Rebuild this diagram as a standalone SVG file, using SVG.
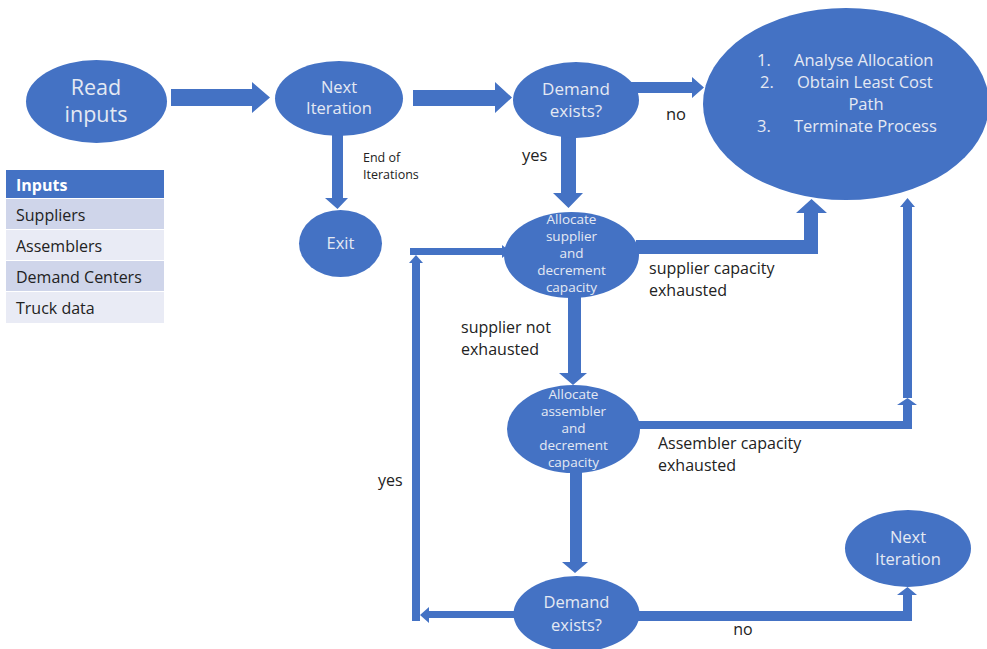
<svg xmlns="http://www.w3.org/2000/svg" width="987" height="649" viewBox="0 0 987 649">
<style>
.n{fill:#4472C4}
.c{fill:#4472C4}
.t{font-family:"Open Sans","Liberation Sans",sans-serif;fill:#E4E9F3;text-anchor:middle}
.s{text-anchor:start}
.l{font-family:"Open Sans","Liberation Sans",sans-serif;fill:#222;font-size:16px}
.tb{font-family:"Open Sans","Liberation Sans",sans-serif;font-size:16px;fill:#222}
</style>
<rect width="987" height="649" fill="#fff"/>
<g id="connectors">
<polygon class="c" points="171,89 252,89 252,82 270,97.5 252,113 252,106 171,106"/>
<polygon class="c" points="413,90 495,90 495,82 512,97.5 495,113 495,106 413,106"/>
<polygon class="c" points="630,82 692,82 692,77 704,87.5 692,98 692,93 630,93"/>
<polygon class="c" points="561,136 576,136 576,193 583,193 568.5,208 553,193 561,193"/>
<polygon class="c" points="332,134 343,134 343,198 348,198 337.5,209 325,198 332,198"/>
<polygon class="c" points="636,240 804,240 804,213 796,213 811.5,199 827,213 818,213 818,254 636,254"/>
<polygon class="c" points="638,421 903,421 903,405 897,405 907.5,398 917,405 912,405 912,429 638,429"/>
<polygon class="c" points="903,398 903,207 900,207 907.5,198 915,207 912,207 912,398"/>
<polygon class="c" points="568,296 581,296 581,373 587,373 573,385 559,373 568,373"/>
<polygon class="c" points="570,472 582,472 582,562 588,562 575,573 562,562 570,562"/>
<polygon class="c" points="514,611 429,611 429,607 420,615 429,623 429,618 514,618"/>
<polygon class="c" points="412,621 412,263 409,263 416,255 423,263 420,263 420,621"/>
<polygon class="c" points="410,248 502,248 502,245 510,251.5 502,258 502,255 410,255"/>
<polygon class="c" points="638,611 903,611 903,595 897,595 907.5,587 917,595 912,595 912,621 638,621"/>
</g>
<g id="read-inputs">
<ellipse class="n" cx="96.5" cy="101.5" rx="70.5" ry="41.5"/>
<text class="t" x="96" y="95" font-size="21.5">Read</text>
<text class="t" x="96" y="122" font-size="21.5">inputs</text>
</g>
<g id="next-iteration-1">
<ellipse class="n" cx="339" cy="98.5" rx="64" ry="37.5"/>
<text class="t" x="339" y="93" font-size="16.5">Next</text>
<text class="t" x="339" y="114" font-size="16.5">Iteration</text>
</g>
<g id="demand-exists-1">
<ellipse class="n" cx="576" cy="100" rx="63" ry="38"/>
<text class="t" x="576" y="95" font-size="17">Demand</text>
<text class="t" x="576" y="117" font-size="17">exists?</text>
</g>
<g id="terminate">
<ellipse class="n" cx="846" cy="104" rx="143" ry="96"/>
<text class="t s" x="757" y="66" font-size="16.5">1.</text>
<text class="t s" x="794" y="66" font-size="16.5">Analyse Allocation</text>
<text class="t s" x="760" y="88" font-size="16.5">2.</text>
<text class="t s" x="797" y="88" font-size="16.5">Obtain Least Cost</text>
<text class="t" x="866" y="110" font-size="16.5">Path</text>
<text class="t s" x="757" y="132" font-size="16.5">3.</text>
<text class="t s" x="794" y="132" font-size="16.5">Terminate Process</text>
</g>
<g id="exit">
<ellipse class="n" cx="340.5" cy="243.5" rx="41.5" ry="33.5"/>
<text class="t" x="340.5" y="249" font-size="16.5">Exit</text>
</g>
<g id="allocate-supplier">
<ellipse class="n" cx="571.5" cy="255" rx="67.5" ry="43"/>
<text class="t" x="571.5" y="224" font-size="13.5">Allocate</text>
<text class="t" x="571.5" y="241" font-size="13.5">supplier</text>
<text class="t" x="571.5" y="258" font-size="13.5">and</text>
<text class="t" x="571.5" y="275" font-size="13.5">decrement</text>
<text class="t" x="571.5" y="292" font-size="13.5">capacity</text>
</g>
<g id="allocate-assembler">
<ellipse class="n" cx="573.5" cy="429" rx="66.5" ry="44"/>
<text class="t" x="573.5" y="399" font-size="13.5">Allocate</text>
<text class="t" x="573.5" y="416" font-size="13.5">assembler</text>
<text class="t" x="573.5" y="433" font-size="13.5">and</text>
<text class="t" x="573.5" y="450" font-size="13.5">decrement</text>
<text class="t" x="573.5" y="467" font-size="13.5">capacity</text>
</g>
<g id="demand-exists-2">
<ellipse class="n" cx="576.5" cy="614" rx="63" ry="38"/>
<text class="t" x="576.5" y="608" font-size="16.5">Demand</text>
<text class="t" x="576.5" y="631" font-size="16.5">exists?</text>
</g>
<g id="next-iteration-2">
<ellipse class="n" cx="908" cy="548.5" rx="63" ry="38.5"/>
<text class="t" x="908" y="543" font-size="16.5">Next</text>
<text class="t" x="908" y="565" font-size="16.5">Iteration</text>
</g>
<g id="labels">
<text class="l" x="363" y="162" style="font-size:12.5px">End of</text>
<text class="l" x="363" y="179" style="font-size:12.5px">Iterations</text>
<text class="l" x="522" y="161" style="font-size:16.5px">yes</text>
<text class="l" x="676" y="120" style="text-anchor:middle;font-size:16.5px">no</text>
<text class="l" x="649" y="274">supplier capacity</text>
<text class="l" x="649" y="296">exhausted</text>
<text class="l" x="461" y="333">supplier not</text>
<text class="l" x="461" y="355">exhausted</text>
<text class="l" x="658" y="449">Assembler capacity</text>
<text class="l" x="658" y="471">exhausted</text>
<text class="l" x="378" y="486">yes</text>
<text class="l" x="743" y="635" style="text-anchor:middle">no</text>
</g>
<g id="inputs-table">
<rect x="6" y="170" width="158" height="28" fill="#4472C4"/>
<rect x="6" y="199" width="158" height="30" fill="#CFD5EA"/>
<rect x="6" y="230" width="158" height="30" fill="#E9EBF5"/>
<rect x="6" y="261" width="158" height="30" fill="#CFD5EA"/>
<rect x="6" y="292" width="158" height="31" fill="#E9EBF5"/>
<text class="tb" x="16" y="191" style="fill:#fff;font-weight:bold">Inputs</text>
<text class="tb" x="16" y="221">Suppliers</text>
<text class="tb" x="16" y="252">Assemblers</text>
<text class="tb" x="16" y="283">Demand Centers</text>
<text class="tb" x="16" y="314">Truck data</text>
</g>
</svg>
